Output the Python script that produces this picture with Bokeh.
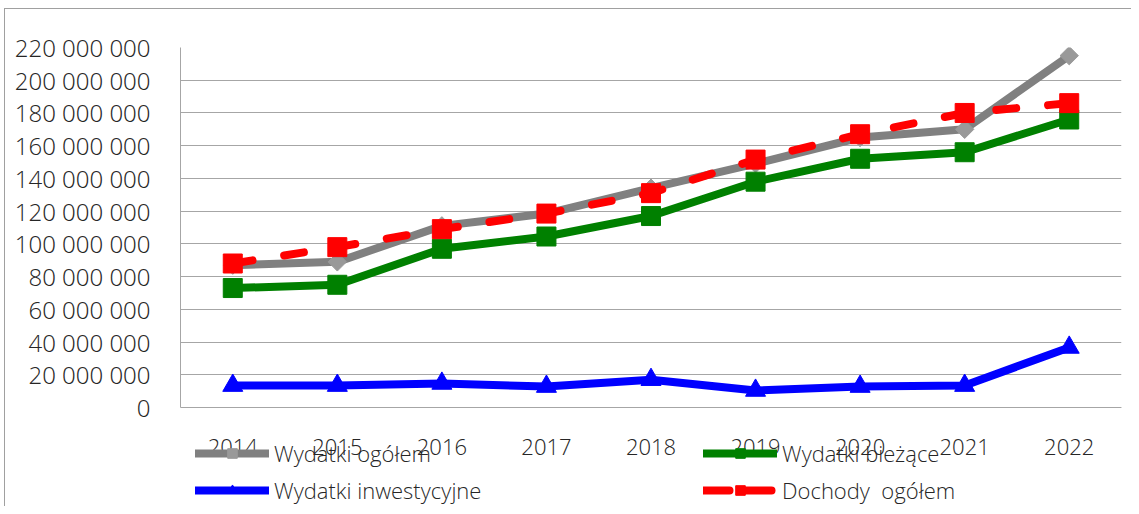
import math
from bokeh.plotting import figure
from bokeh.models import Range1d, FixedTicker, CustomJSTickFormatter, Legend, LegendItem
from bokeh.embed import file_html
from bokeh.resources import INLINE

years = ["2014", "2015", "2016", "2017", "2018", "2019", "2020", "2021", "2022"]
wydatki_ogolem = [87e6, 89e6, 111e6, 118.5e6, 134e6, 149e6, 165e6, 170e6, 215e6]
wydatki_biezace = [73e6, 75e6, 97e6, 104.5e6, 117e6, 138e6, 152e6, 156e6, 176e6]
wydatki_inwestycyjne = [13.4e6, 13.4e6, 14.7e6, 12.8e6, 17e6, 10.4e6, 12.8e6, 13.4e6, 36.7e6]
dochody_ogolem = [88e6, 98e6, 109e6, 118.5e6, 131e6, 151.5e6, 167e6, 180e6, 186e6]
y_ticks = [0, 20e6, 40e6, 60e6, 80e6, 100e6, 120e6, 140e6, 160e6, 180e6, 200e6, 220e6]
y_max = 220e6

FONT = "'Open Sans Light', 'Open Sans'"
TXT = "#262626"
GRID = "#a6a6a6"

W, H = 1131, 506
TOP, LEFT, RIGHT = 47, 180, 10
ZERO_PX = 407  # pixel row of the zero line
px_per_unit = (ZERO_PX - TOP) / y_max
y_start = -(H - ZERO_PX) / px_per_unit

p = figure(x_range=years, y_range=Range1d(y_start, y_max), width=W, height=H,
           output_backend="svg", toolbar_location=None,
           min_border_left=LEFT, min_border_right=RIGHT, min_border_top=TOP, min_border_bottom=0)
p.border_fill_alpha = 0
p.styles = {
    "background": "linear-gradient(#a0a0a0,#a0a0a0) 4px 8px / 1px 100% no-repeat, "
                  "linear-gradient(#a0a0a0,#a0a0a0) 4px 8px / 100% 1px no-repeat, #ffffff",
}
p.outline_line_color = None
p.xgrid.grid_line_color = None
p.ygrid.grid_line_color = GRID
p.ygrid.grid_line_width = 1

p.yaxis.ticker = FixedTicker(ticks=y_ticks)
p.yaxis.bounds = (0, y_max)
p.yaxis.formatter = CustomJSTickFormatter(code="""
return Math.round(tick).toString().replace(/\\B(?=(\\d{3})+(?!\\d))/g, " ");
""")
p.xaxis.fixed_location = 0
for ax in (p.xaxis, p.yaxis):
    ax.major_tick_line_color = None
    ax.minor_tick_line_color = None
    ax.axis_line_color = GRID
    ax.major_label_text_font = FONT
    ax.major_label_text_color = TXT
p.yaxis.major_label_text_font_size = "24px"
p.yaxis.major_label_standoff = 24
p.xaxis.major_label_text_font_size = "22px"
p.xaxis.major_label_standoff = 25

# series
p.line(years, wydatki_ogolem, line_color="#808080", line_width=8)
p.scatter(years, wydatki_ogolem, marker="square", angle=math.pi / 4, size=13,
          fill_color="#999999", line_color="#999999")

p.line(years, wydatki_biezace, line_color="#008000", line_width=8)
p.scatter(years, wydatki_biezace, marker="square", size=19,
          fill_color="#008000", line_color="#008000")

p.line(years, wydatki_inwestycyjne, line_color="#0000ff", line_width=8)
p.scatter(years, wydatki_inwestycyjne, marker="triangle", size=20,
          fill_color="#0000ff", line_color="#0000ff")

p.line(years, dochody_ogolem, line_color="#ff0000", line_width=8,
       line_dash="20 32", line_cap="round")
p.scatter(years, dochody_ogolem, marker="square", size=19,
          fill_color="#ff0000", line_color="#ff0000")

# legend proxies (one NaN point each, nothing drawn in the plot)
nx = [years[0]]
ny = [float("nan")]
l1 = p.line(nx, ny, line_color="#808080", line_width=8, line_cap="round")
m1 = p.scatter(nx, ny, marker="square", angle=math.pi / 4, size=10,
               fill_color="#999999", line_color="#999999")
l2 = p.line(nx, ny, line_color="#008000", line_width=8, line_cap="round")
m2 = p.scatter(nx, ny, marker="square", size=13, fill_color="#008000", line_color="#008000")
l3 = p.line(nx, ny, line_color="#0000ff", line_width=8, line_cap="round")
m3 = p.scatter(nx, ny, marker="triangle", size=15, fill_color="#0000ff", line_color="#0000ff")
l4 = p.line(nx, ny, line_color="#ff0000", line_width=8, line_dash="26 16", line_cap="round")
m4 = p.scatter(nx, ny, marker="square", size=14, fill_color="#ff0000", line_color="#ff0000")

legend = Legend(items=[
    LegendItem(label="Wydatki ogółem", renderers=[l1, m1]),
    LegendItem(label="Wydatki bieżące", renderers=[l2, m2]),
    LegendItem(label="Wydatki inwestycyjne", renderers=[l3, m3]),
    LegendItem(label="Dochody  ogółem", renderers=[l4, m4]),
], location=(15, 1), orientation="horizontal", ncols=2,
    glyph_width=74, glyph_height=24, label_height=24, label_width=422,
    label_standoff=5, spacing=7, padding=0, margin=0,
    border_line_color=None, background_fill_alpha=0,
    label_text_font=FONT, label_text_font_size="22px", label_text_color=TXT)
p.add_layout(legend)

open("out.html", "w").write(file_html(p, INLINE))
